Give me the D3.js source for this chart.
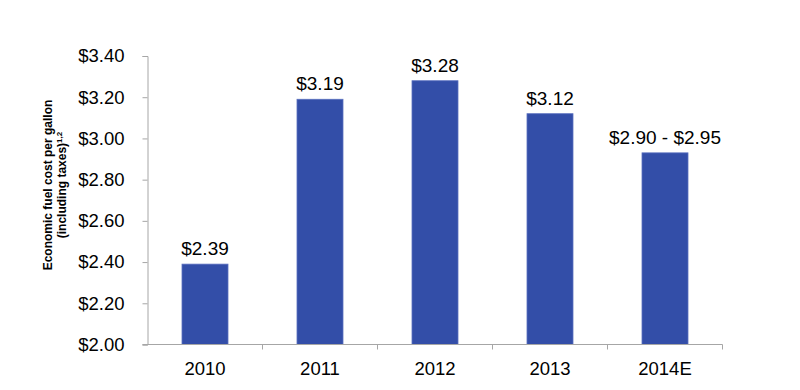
<!DOCTYPE html>
<html><head><meta charset="utf-8">
<script src="https://cdn.jsdelivr.net/npm/d3@7"></script>
<style>body{margin:0;background:#fff;} text{font-family:"Liberation Sans",Arial,sans-serif;}</style>
</head><body>
<svg id="c" width="800" height="390"></svg>
<script>
const categories = ["2010","2011","2012","2013","2014E"];
const values = [2.39, 3.19, 3.28, 3.12, 2.93];
const valueLabels = ["$2.39","$3.19","$3.28","$3.12","$2.90 - $2.95"];
const yTicks = [2.0,2.2,2.4,2.6,2.8,3.0,3.2,3.4];

(function(){
const svg = d3.select("#c");
const mLeft = 147.5, mRight = 722.5, mTop = 56, mBottom = 344.5;
const x = d3.scaleBand().domain(categories).range([mLeft, mRight]).paddingInner(0.6).paddingOuter(0.3);
const y = d3.scaleLinear().domain([2.0, 3.4]).range([mBottom, mTop]);
const axisColor = "#a6a6a6";

svg.selectAll("rect.bar").data(values).join("rect")
  .attr("class","bar")
  .attr("x",(d,i)=>x(categories[i]))
  .attr("width",x.bandwidth())
  .attr("y",d=>y(d))
  .attr("height",d=>y(2.0)-y(d))
  .attr("fill","#334ea8")
  .attr("stroke","#5a70bf").attr("stroke-width",0.8);

svg.selectAll("text.vl").data(values).join("text")
  .attr("class","vl")
  .attr("x",(d,i)=>x(categories[i])+x.bandwidth()/2)
  .attr("y",d=>y(d)-9)
  .attr("text-anchor","middle")
  .attr("font-size",19).attr("fill","#000")
  .text((d,i)=>valueLabels[i]);

const ya = svg.append("g").attr("transform",`translate(${mLeft},0)`)
  .call(d3.axisLeft(y).tickValues(yTicks).tickSize(5).tickPadding(18).tickFormat(d=>"$"+d3.format(".2f")(d)));
ya.select(".domain").attr("stroke",axisColor);
ya.selectAll(".tick line").attr("stroke",axisColor);
ya.selectAll(".tick text").attr("font-size",18.5).attr("fill","#000").attr("font-family","Liberation Sans, Arial, sans-serif");

const xa = svg.append("g").attr("transform",`translate(0,${mBottom})`)
  .call(d3.axisBottom(x).tickSize(0).tickPadding(17));
xa.select(".domain").attr("stroke",axisColor).attr("d",`M${mLeft-5},0H${mRight}`);
xa.selectAll(".tick text").attr("font-size",18.5).attr("fill","#000").attr("font-family","Liberation Sans, Arial, sans-serif");
const step = x.step();
const seps = categories.map(c=>x(c)+x.bandwidth()+x.paddingInner()*step/2);
xa.selectAll("line.sep").data(seps).join("line").attr("class","sep")
  .attr("x1",d=>d).attr("x2",d=>d).attr("y1",0).attr("y2",5).attr("stroke",axisColor);

const t = svg.append("text").attr("transform",`translate(55,185) rotate(-90)`)
  .attr("text-anchor","middle").attr("font-size",12).attr("font-weight","bold").attr("fill","#000");
t.append("tspan").attr("x",0).attr("dy","-0.25em").text("Economic fuel cost per gallon");
t.append("tspan").attr("x",0).attr("dy","1.2em").text("(including taxes)");
t.append("tspan").attr("font-size",8).attr("dy","-0.5em").text("1,2");
})();
</script>
</body></html>
